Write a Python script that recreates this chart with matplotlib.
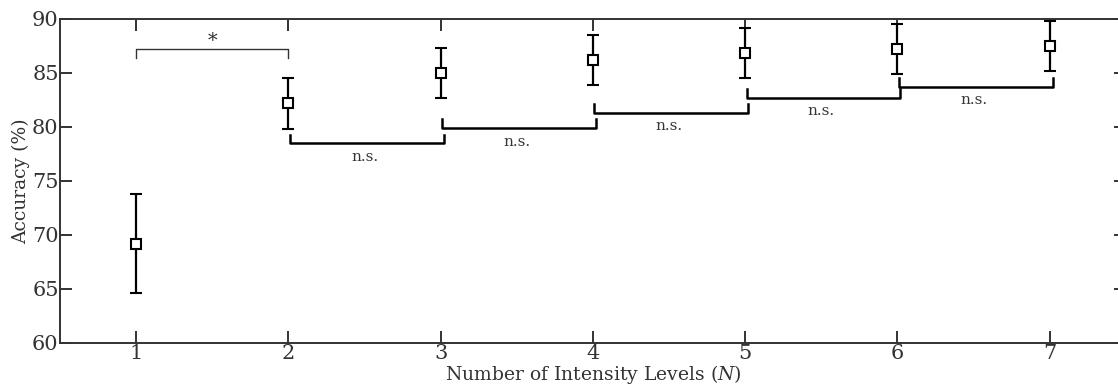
import numpy as np
import matplotlib
matplotlib.use('Agg')
import matplotlib.pyplot as plt

# Dati
levels = [1, 2, 3, 4, 5, 6, 7]
accuracy = [69.2, 82.2, 85.0, 86.2, 86.85, 87.25, 87.5]
err = [4.55, 2.35, 2.3, 2.3, 2.3, 2.3, 2.3]

# coppie n.s. (x1, x2, altezza)
ns_pairs = [(2, 3, 78.5), (3, 4, 79.9), (4, 5, 81.3), (5, 6, 82.7), (6, 7, 83.7)]
sig_pair = (1, 2, 87.2)

plt.rcParams['font.family'] = 'DejaVu Serif'
plt.rcParams['mathtext.fontset'] = 'dejavuserif'
txt_col = '#333333'

fig = plt.figure(figsize=(11.18, 3.87), dpi=100)
ax = fig.add_axes([0.0537, 0.1137, 0.9533, 0.8373])

ax.errorbar(levels, accuracy, yerr=err, fmt='s', color='black', mfc='white',
            mec='black', ms=7.5, mew=1.5, elinewidth=1.6, capsize=4.5, capthick=1.6, zorder=3)

# bracket significativo
x1, x2, h = sig_pair
ax.plot([x1, x1, x2, x2], [h - 0.8, h, h, h - 0.8], color='#333333', lw=1.0)
ax.text((x1 + x2) / 2, h + 0.75, '*', ha='center', va='center', fontsize=14, color=txt_col)

# bracket n.s.
for a, b, h in ns_pairs:
    ax.plot([a + 0.01, a + 0.01, b + 0.02, b + 0.02], [h + 0.8, h, h, h + 0.8],
            color='black', lw=1.8)
    ax.text((a + b) / 2, h - 0.6, 'n.s.', ha='center', va='top', fontsize=11, color=txt_col)

ax.set_xlim(0.5, 7.5)
ax.set_ylim(60, 90)
ax.set_xticks(levels)
ax.set_yticks(np.arange(60, 91, 5))
ax.tick_params(direction='in', length=8.5, width=1.4, top=True, right=True,
               labelsize=15, colors='#333333', labelcolor=txt_col, pad=1)
for s in ax.spines.values():
    s.set_color('#333333')
    s.set_linewidth(1.4)

ax.set_xlabel('Number of Intensity Levels ($N$)', fontsize=13.5, color=txt_col, labelpad=0)
ax.set_ylabel('Accuracy (%)', fontsize=13.5, color=txt_col, labelpad=1)

fig.savefig('out.png', dpi=100)
